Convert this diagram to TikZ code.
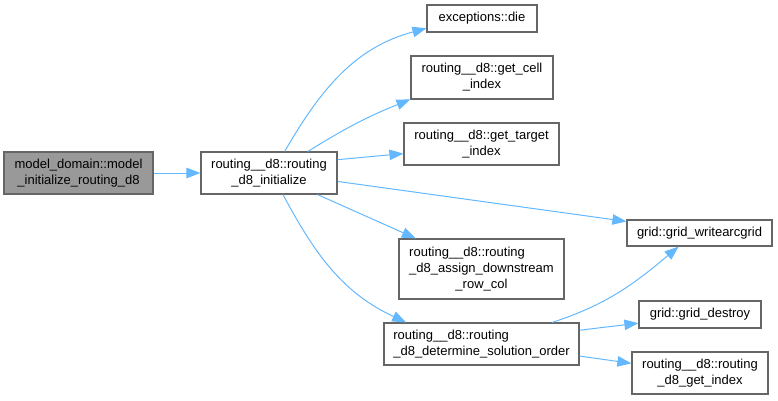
\documentclass[tikz,border=0pt]{standalone}
\usepackage{fontspec}
\setmainfont{Liberation Sans}
\usetikzlibrary{arrows.meta}
\definecolor{edgeblue}{HTML}{63B8FF}
\definecolor{boxgray}{HTML}{666666}
\definecolor{rootgray}{HTML}{999999}
\begin{document}
\begin{tikzpicture}[x=1pt,y=-1pt]
	\tikzset{align=center,
			font=\fontsize{13}{16}\selectfont}
	\tikzset{vertex/.style = {shape=rectangle,draw=boxgray,line width=1.2pt,fill=white,inner sep=0pt}}
	\tikzset{rootvertex/.style = {vertex,fill=rootgray}}
	\tikzset{edge/.style = {->,draw=edgeblue,line width=1pt,> = {Triangle[length=14pt,width=10.5pt,fill=edgeblue]}}}
	\useasboundingbox (0,0) rectangle (778,400);
    % vertices
    \node[rootvertex,minimum width=149pt,minimum height=42pt] (model) at (78.5,173) {model\_domain::model\\\_initialize\_routing\_d8};
    \node[vertex,minimum width=136pt,minimum height=42pt] (init) at (269,173) {routing\_\_d8::routing\\\_d8\_initialize};
    \node[vertex,minimum width=110pt,minimum height=27pt] (die) at (482,18.5) {exceptions::die};
    \node[vertex,minimum width=142pt,minimum height=43pt] (cell) at (482,77.5) {routing\_\_d8::get\_cell\\\_index};
    \node[vertex,minimum width=155pt,minimum height=42pt] (target) at (481.5,144) {routing\_\_d8::get\_target\\\_index};
    \node[vertex,minimum width=145pt,minimum height=26pt] (write) at (699.5,233) {grid::grid\_writearcgrid};
    \node[vertex,minimum width=165pt,minimum height=60pt] (assign) at (481.5,269) {\begin{tabular}{@{}l@{}}routing\_\_d8::routing\\\_d8\_assign\_downstream\\\multicolumn{1}{@{}c@{}}{\_row\_col}\end{tabular}};
    \node[vertex,minimum width=195pt,minimum height=42pt] (order) at (481.5,344) {\begin{tabular}{@{}l@{}}routing\_\_d8::routing\\\_d8\_determine\_solution\_order\end{tabular}};
    \node[vertex,minimum width=122pt,minimum height=27pt] (destroy) at (700,314.5) {grid::grid\_destroy};
    \node[vertex,minimum width=136pt,minimum height=42pt] (index) at (700,373) {routing\_\_d8::routing\\\_d8\_get\_index};
    %edges
	\draw[edge] (model.east) -- (init.west);
	\draw[edge] (init.54) to[out=60,in=195] (die.190);
	\draw[edge] (init.29) to[bend left=5] (cell.197);
	\draw[edge] (init.11) -- (target.187);
	\draw[edge] (init.-7.5) -- (write.171.5);
	\draw[edge] (init.-24) -- (assign.155.7);
	\draw[edge] (init.-57.5) to[out=-62,in=155] (order.164.3);
	\draw[edge] (order.17.1) to[out=18,in=220] (write.213);
	\draw[edge] (order.8.2) -- (destroy.188);
	\draw[edge] (order.-7.6) -- (index.172.5);
\end{tikzpicture}
\end{document}
